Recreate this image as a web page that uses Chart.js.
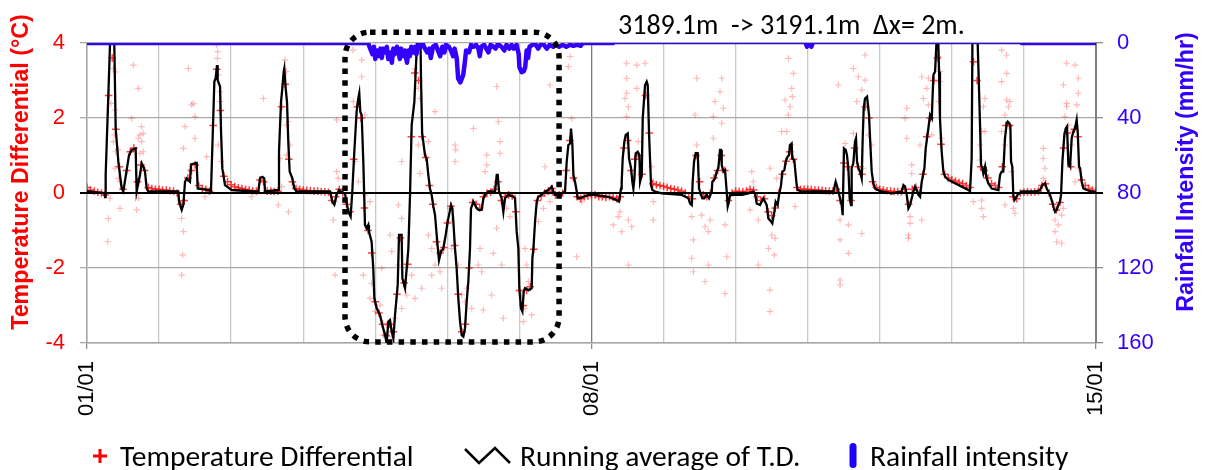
<!DOCTYPE html>
<html>
<head>
<meta charset="utf-8">
<script src="https://cdn.jsdelivr.net/npm/chart.js@4.4.0/dist/chart.umd.min.js"></script>
<style>
  html, body { margin: 0; padding: 0; background: #fff; }
  #wrap { width: 1206px; height: 470px; }
</style>
</head>
<body>
<div id="wrap"><canvas id="c" width="1206" height="470"></canvas></div>
<script>
// ---------------- data ----------------
// time axis in days after 01/01 00:00
const xTickDays = [0, 7, 14];
const xTickLabels = ['01/01', '08/01', '15/01'];
const tdTicks = [-4, -2, 0, 2, 4];          // °C
const rainTicks = [0, 40, 80, 120, 160];    // mm/hr

// raw temperature differential sampled every 0.05 day (one row per day)
const tdSampleStep = 0.05;
const tdSamples = [
  0.15,0.08,0.05,0.02,0.00,-0.05,2.6,3.6,1.7,0.7,0.10,0.6,1.1,1.2,0.3,0.75,0.6,0.15,0.12,0.10,
  0.10,0.08,0.08,0.06,0.05,0.00,-0.30,-0.20,0.40,0.60,0.75,0.20,0.12,0.10,0.05,1.8,3.3,2.2,0.45,0.30,
  0.22,0.17,0.14,0.12,0.10,0.08,0.06,0.05,0.35,0.30,0.05,0.05,0.04,0.05,2.3,2.9,0.9,0.30,0.12,0.10,
  0.08,0.07,0.06,0.05,0.05,0.04,0.03,0.02,-0.20,-0.10,0.10,0.00,-0.30,-0.50,0.90,2.3,2.0,-0.40,-1.0,-1.6,
  -2.9,-3.2,-3.5,-3.8,-3.5,-3.7,-2.7,-1.2,-2.4,-1.9,1.5,3.2,3.0,1.5,0.95,0.2,-0.3,-1.3,-1.6,-1.45,
  -0.8,-0.35,-1.4,-2.7,-3.7,-3.5,-2.0,-0.25,-0.30,-0.40,-0.10,0.00,0.02,0.10,0.30,-0.20,-0.10,-0.05,-0.08,-0.5,
  -2.6,-3.0,-2.6,-2.5,-1.5,-0.2,-0.08,0.00,0.05,0.12,-0.05,-0.05,0.00,0.6,1.4,0.4,-0.10,-0.15,-0.10,-0.08,
  -0.05,-0.05,-0.10,-0.10,-0.12,-0.10,-0.12,-0.15,-0.10,1.2,1.4,0.6,0.9,1.0,0.5,2.6,1.6,0.25,0.22,0.20,
  0.18,0.15,0.12,0.10,0.08,0.05,0.00,-0.10,-0.15,1.0,0.3,-0.05,-0.10,0.00,0.40,0.60,1.0,0.6,-0.20,0.00,
  0.05,0.04,0.03,0.05,0.10,0.08,-0.10,-0.20,-0.15,-0.5,-0.6,-0.4,0.00,0.5,0.85,1.1,0.9,0.15,0.10,0.10,
  0.10,0.09,0.08,0.08,0.07,0.06,0.05,0.05,0.10,-0.20,0.8,0.7,-0.20,1.2,0.7,0.5,2.3,2.0,0.30,0.15,
  0.10,0.08,0.06,0.05,0.04,0.04,0.03,0.10,-0.30,0.10,0.15,0.00,0.5,1.5,2.0,3.0,3.6,1.3,0.5,0.40,
  0.35,0.32,0.28,0.25,0.20,0.15,3.5,3.0,0.7,0.6,0.4,0.25,0.20,0.15,0.7,1.8,1.8,-0.10,-0.15,0.00,
  0.02,0.03,0.02,0.03,0.05,0.20,0.25,0.00,-0.30,-0.45,-0.25,1.2,1.6,0.7,1.7,1.5,0.35,0.20,0.12,0.08,
  0.05
];

// scattered raw readings [day, °C]
const tdScatter = [
  [0.365,3.32],[0.398,3.23],[0.333,2.39],[0.388,2.21],[0.379,1.55],[0.365,1.37],[0.398,1.10],[0.643,3.41],
  [0.712,2.79],[0.62,1.99],[0.758,1.77],[0.781,1.59],[0.735,1.55],[0.712,1.46],[0.758,1.37],[0.781,1.10],
  [0.735,1.06],[0.388,0.66],[0.435,0.39],[0.458,0.30],[0.296,-0.68],[0.287,-1.30],[0.458,-0.41],[0.689,-0.45],
  [0.712,-0.14],[0.319,-0.14],[0.435,1.15],
  [1.406,3.32],[1.452,2.35],[1.475,2.39],[1.498,2.04],[1.36,1.77],[1.498,1.46],[1.337,1.19],[1.66,0.97],
  [1.313,-0.68],[1.337,-1.03],[1.327,-1.65],[1.313,-2.19],[1.799,3.95],[1.813,3.77],[1.809,3.59],[1.822,3.15],
  [1.846,2.70],[1.846,2.44],[1.822,1.28],[1.859,0.84],[1.637,-0.10],[2.285,-0.10],
  [2.747,3.55],[2.77,3.24],[2.447,2.52],[2.794,1.90],[2.77,1.81],[2.817,1.28],[2.77,1.01],[2.678,0.92],
  [2.701,0.17],[2.655,-0.32],[2.794,-0.50],[3.464,1.95],[3.464,0.57],[3.487,0.39],[3.441,-0.23],[3.418,-0.72],
  [3.441,-2.19],[3.811,3.55],[3.811,3.10],[3.695,2.44],[3.857,2.08],[3.719,0.84],[3.765,0.30],[3.857,-0.05],
  [3.927,-0.23],[3.834,-2.19],[3.69,3.81],
  [4.366,0.84],[4.551,3.32],[4.597,2.79],[4.62,2.52],[4.597,1.28],[4.62,0.52],[4.32,-0.32],[4.366,-0.68],
  [4.204,-1.12],[4.228,-1.56],[4.32,-1.92],[4.089,-2.01],[3.95,-2.41],[3.927,-2.81],[3.996,-3.16],[4.066,-2.99],
  [4.158,-3.52],[4.274,-3.34],[4.366,-3.08],[4.436,-2.72],[4.551,-2.81],[4.644,-2.54],[4.505,-2.19],[4.112,-3.79],
  [4.228,-3.83],
  [4.829,2.17],[4.736,1.37],[5.106,1.28],[5.116,1.15],[5.106,0.84],[5.361,1.72],[5.684,2.84],[5.708,1.90],
  [5.731,1.37],[5.731,1.06],[5.546,1.01],[5.546,0.75],[5.523,0.57],[6.355,0.70],[6.424,2.88],[6.702,3.64],
  [6.679,3.37],[6.725,1.99],[6.748,0.39],[4.736,-1.12],[4.783,-1.48],[4.829,-1.92],[4.898,-2.10],[4.921,-2.54],
  [4.783,-2.19],[5.037,-0.41],[5.06,-0.76],[5.06,-1.48],[5.153,-1.92],[5.199,-2.72],[5.268,-2.54],[5.245,-2.90],
  [5.338,-3.08],[5.453,-1.48],[5.43,-1.92],[5.476,-2.10],[5.638,-1.61],[5.754,-1.92],[5.615,-2.72],[5.499,-3.12],
  [5.777,-3.34],[5.684,-0.94],[5.869,-0.63],[6.078,-1.48],[6.101,-1.92],[6.124,-2.36],[6.031,-2.72],[6.078,-3.08],
  [6.17,-3.25],[6.054,-3.43],[6.263,-0.76],[6.332,-0.41],[6.424,-0.23],[6.794,-1.70],[6.864,-0.23],[5.823,-0.41],
  [5.222,-3.70],
  [7.488,3.46],[7.627,3.41],[7.743,3.46],[7.488,3.06],[7.627,2.79],[7.488,2.66],[7.512,2.30],[7.465,2.52],
  [7.488,2.04],[7.65,1.37],[7.835,0.70],[7.858,0.30],[7.858,-0.23],[7.373,-0.63],[7.396,-0.50],[7.512,-0.72],
  [7.303,-0.85],[7.558,-0.90],[7.419,-1.03],[7.858,-0.72],[7.512,-1.92],
  [8.46,3.06],[8.807,3.06],[8.783,2.70],[8.714,2.44],[8.83,2.26],[8.437,2.08],[8.691,2.04],[8.807,1.86],
  [8.46,1.28],[8.691,1.46],[8.39,-0.63],[8.529,-0.59],[8.575,-0.90],[8.622,-1.03],[8.645,-0.72],[8.853,-0.85],
  [8.414,-1.25],[8.39,-1.74],[8.622,-1.92],[8.876,-1.70],[8.414,-2.10],[8.575,-2.36],[8.853,-2.68],[9.223,0.57],
  [9.246,0.30],[9.2,-0.45],[9.315,-0.72],[9.315,-1.92],
  [9.732,3.59],[9.801,3.19],[9.778,2.79],[9.787,2.57],[9.686,2.48],[9.755,2.30],[9.732,2.08],[9.639,1.64],
  [9.709,1.64],[9.778,1.28],[9.477,0.66],[9.57,0.39],[9.824,-0.36],[9.5,-1.12],[9.547,-1.21],[9.454,-1.48],
  [9.538,-1.65],[9.477,-2.59],[9.477,-3.16],
  [10.796,3.68],[10.634,3.32],[10.703,3.10],[10.796,3.01],[10.426,2.88],[10.749,2.75],[10.68,2.44],[10.634,1.59],
  [10.842,1.55],[10.888,1.28],[10.772,0.66],[10.518,1.32],[10.449,-0.72],[10.564,-0.85],[10.449,-1.25],[10.564,-1.61],
  [10.749,-1.08],[10.449,-2.32],[10.449,-2.45],
  [11.582,3.10],[11.674,3.06],[11.651,2.79],[11.605,2.52],[11.674,2.35],[11.374,2.26],[11.351,1.99],[11.374,1.46],
  [11.443,0.75],[11.559,1.28],[11.443,0.52],[11.42,-0.63],[11.42,-0.81],[11.397,-1.12],[11.397,-1.21],[11.582,-0.72],
  [11.721,1.55],
  [11.812,3.64],[11.835,3.24],[11.835,2.97],[11.812,2.44],[11.858,1.46],[12.46,2.52],[12.437,2.30],[12.414,1.64],
  [12.46,1.64],[12.39,1.28],[12.39,0.88],[12.691,3.81],[12.76,3.68],[12.76,3.19],[12.691,2.97],[12.76,2.48],
  [12.807,2.44],[12.784,2.30],[12.737,2.08],[12.691,1.64],[12.737,1.28],[12.83,0.57],[12.737,-0.32],[12.853,-0.41],
  [12.876,-0.54],[12.298,-0.23],[12.414,-0.19],[12.414,-0.41],[12.437,-0.63],
  [13.269,1.19],[13.269,0.92],[13.292,0.66],[13.269,0.39],[13.547,-0.41],[13.524,-0.59],[13.431,-0.72],[13.477,-0.85],
  [13.431,-1.03],[13.454,-1.30],[13.524,-1.34],[13.593,3.46],[13.709,3.41],[13.755,3.06],[13.547,2.88],[13.593,2.39],
  [13.593,2.30],[13.732,2.35],[13.755,2.66],[13.57,2.04],[13.616,1.81],[13.662,1.28],[13.755,0.66],[13.709,0.30],
  [13.685,1.64]
];

// running average of the temperature differential [day, °C]
const runningAvg = [
  [0,0.05],[0.12,0.02],[0.24,0.0],[0.25,-0.1],[0.259,0.48],[0.296,2.61],[0.319,3.95],[0.33,5.5],[0.37,5.5],
  [0.379,3.95],[0.398,1.72],[0.435,0.83],[0.481,0.12],[0.504,0.04],[0.583,1.01],[0.62,1.15],[0.675,1.19],
  [0.689,0.04],[0.735,0.48],[0.759,0.79],[0.782,0.70],[0.805,0.57],[0.828,0.12],[0.851,0.04],[1.267,0.04],
  [1.277,-0.23],[1.314,-0.45],[1.337,-0.31],[1.36,0.30],[1.383,0.39],[1.429,0.30],[1.443,0.76],[1.522,0.80],
  [1.536,0.12],[1.693,0.08],[1.72,0.04],[1.73,0.65],[1.767,2.97],[1.785,3.06],[1.804,3.41],[1.813,3.01],
  [1.846,2.84],[1.86,1.63],[1.878,0.65],[1.915,0.21],[2.008,0.08],[2.33,0.04],
  [2.377,0.04],[2.40,0.39],[2.433,0.43],[2.46,0.39],[2.47,0.04],[2.655,0.08],[2.664,1.1],[2.692,2.43],
  [2.71,2.79],[2.729,3.23],[2.738,3.32],[2.757,2.79],[2.775,2.43],[2.793,1.37],[2.812,0.57],[2.849,0.39],
  [2.877,0.12],[2.909,0.04],[3.372,0.04],[3.404,-0.23],[3.432,-0.31],[3.464,-0.05],[3.496,0.08],[3.524,0.04],
  [3.58,-0.02],[3.626,-0.5],[3.658,-0.63],[3.681,0.04],[3.709,1.1],[3.741,2.17],[3.764,2.52],[3.778,2.66],
  [3.792,2.17],[3.811,2.08],[3.834,0.83],[3.857,-0.85],[3.88,-0.94],[3.903,-0.85],[3.912,-1.03],[3.949,-1.3],
  [3.972,-2.01],[3.987,-2.81],[4.019,-3.07],[4.065,-3.25],[4.098,-3.52],[4.135,-3.79],[4.158,-4.01],[4.181,-3.43],
  [4.204,-3.39],[4.228,-3.7],[4.251,-3.87],[4.274,-3.25],[4.311,-2.45],[4.329,-1.12],[4.366,-1.12],[4.376,-2.28],
  [4.413,-2.54],[4.436,-2.01],[4.459,-1.48],[4.482,-0.05],[4.505,1.81],[4.542,2.43],[4.575,3.84],[4.589,5.0],
  [4.62,5.0],[4.635,3.0],[4.65,1.6],[4.69,1.0],
  [4.713,0.92],[4.736,0.48],[4.759,0.12],[4.782,-0.05],[4.806,-0.36],[4.829,-0.59],[4.852,-1.12],[4.866,-1.43],
  [4.884,-1.79],[4.912,-1.56],[4.944,-1.48],[4.977,-1.12],[5.005,-0.76],[5.023,-0.59],[5.051,-0.32],[5.069,-0.41],
  [5.083,-0.76],[5.106,-1.48],[5.129,-2.01],[5.152,-2.81],[5.176,-3.43],[5.199,-3.79],[5.222,-3.83],[5.245,-3.61],
  [5.268,-2.9],[5.291,-2.36],[5.314,-1.48],[5.328,-0.41],[5.361,-0.23],[5.384,-0.32],[5.407,-0.41],[5.43,-0.45],
  [5.476,-0.45],[5.5,-0.14],[5.523,-0.05],[5.569,0.04],[5.662,0.04],[5.685,0.48],[5.699,0.48],[5.717,0.04],
  [5.754,-0.14],[5.777,-0.5],[5.8,-0.14],[5.846,-0.05],[5.916,-0.1],[5.939,-0.14],[5.962,-1.03],[5.985,-1.48],
  [5.999,-2.54],[6.022,-3.08],[6.041,-3.16],[6.059,-2.63],[6.078,-2.54],[6.124,-2.59],[6.17,-2.54],[6.18,-1.74],
  [6.194,-1.48],[6.217,-0.76],[6.24,-0.23],[6.263,-0.1],[6.309,-0.05],[6.356,0.04],[6.402,0.08],[6.448,0.17],
  [6.471,0.04],[6.494,-0.05],[6.541,-0.05],[6.633,0.04],[6.656,0.84],[6.679,1.28],[6.702,1.32],[6.716,1.72],
  [6.735,1.28],[6.749,0.48],[6.772,0.3],[6.795,0.04],[6.809,-0.14],[6.842,-0.14],[6.888,-0.1],[6.957,-0.05],
  [7.05,-0.05],
  [7.234,-0.1],[7.28,-0.14],[7.349,-0.19],[7.382,-0.23],[7.41,0.12],[7.419,0.3],[7.433,0.92],[7.456,1.37],
  [7.475,1.55],[7.503,1.59],[7.521,0.92],[7.549,0.66],[7.567,0.3],[7.581,0.12],[7.595,0.39],[7.614,1.06],
  [7.641,1.1],[7.665,1.01],[7.674,0.3],[7.697,0.48],[7.711,1.99],[7.743,2.88],[7.766,2.97],[7.78,2.88],
  [7.799,1.55],[7.826,0.21],[7.845,0.08],[7.882,0.04],[7.975,-0.01],[8.252,-0.05],[8.344,-0.14],[8.368,-0.28],
  [8.391,-0.32],[8.404,0.3],[8.423,0.84],[8.446,1.06],[8.474,1.06],[8.492,0.12],[8.52,-0.05],[8.538,-0.14],
  [8.566,-0.14],[8.598,-0.05],[8.631,-0.14],[8.668,0.04],[8.677,0.3],[8.714,0.39],[8.737,0.57],[8.76,0.66],
  [8.783,1.15],[8.797,1.15],[8.807,0.75],[8.83,0.57],[8.853,0.61],[8.876,0.04],[8.89,-0.36],[8.908,-0.23],
  [8.922,-0.05],[9.084,-0.05],[9.176,-0.01],[9.246,0.04],[9.269,-0.01],[9.292,-0.28],[9.338,-0.32],[9.384,-0.14],
  [9.431,-0.32],[9.454,-0.68],[9.491,-0.76],[9.509,-0.81],[9.537,-0.5],[9.555,-0.23],[9.583,-0.32],[9.602,-0.05],
  [9.63,0.21],[9.648,0.57],[9.676,0.61],[9.694,0.84],[9.722,0.97],[9.74,1.01],[9.754,1.28],[9.777,1.32],
  [9.786,0.92],[9.814,0.88],[9.833,0.48],[9.847,0.21],[9.861,0.08],[9.916,0.04],[10.356,0.04],[10.388,0.3],
  [10.416,0.12],[10.448,-0.14],[10.471,-0.32],[10.485,-0.59],[10.503,1.19],[10.527,1.15],[10.545,1.01],[10.564,0.66],
  [10.582,-0.14],[10.601,-0.32],[10.61,0.66],[10.633,0.79],[10.656,1.37],[10.67,1.46],[10.684,0.84],[10.703,0.66],
  [10.726,0.57],[10.749,0.39],[10.763,1.46],[10.777,2.26],[10.795,2.52],[10.823,2.57],[10.851,2.08],[10.865,1.46],
  [10.888,0.57],[10.911,0.26],[10.934,0.12],[11.004,0.05],[11.166,-0.01],[11.304,0.04],[11.328,0.21],[11.351,0.17],
  [11.374,-0.05],[11.397,-0.41],[11.42,-0.32],[11.443,-0.14],[11.466,0.04],[11.489,0.17],[11.513,0.08],[11.536,-0.05],
  [11.559,-0.1],[11.582,0.3],[11.619,0.66],[11.637,1.19],[11.674,1.72],[11.697,2.08],[11.721,1.99],[11.744,3.15],
  [11.767,3.24],[11.785,3.95],[11.8,4.8],[11.813,3.95],[11.822,3.24],[11.835,1.99],[11.859,1.1],[11.882,0.57],
  [11.905,0.44],[11.951,0.35],[12.044,0.26],[12.136,0.17],[12.229,0.08],[12.252,0.05],[12.275,0.92],[12.285,3.95],
  [12.30,5.5],[12.35,5.5],[12.359,3.95],[12.378,2.7],[12.391,1.81],[12.405,0.75],[12.424,0.66],[12.437,0.52],
  [12.46,0.7],[12.47,0.52],[12.483,0.39],[12.506,0.26],[12.553,0.12],[12.645,0.08],[12.668,0.48],[12.691,0.57],
  [12.714,0.57],[12.737,1.46],[12.761,1.86],[12.775,1.9],[12.793,1.86],[12.812,1.81],[12.821,0.84],[12.839,0.7],
  [12.853,-0.05],[12.867,-0.19],[12.886,-0.14],[12.913,-0.05],[12.969,0.04],[13.154,0.04],[13.223,0.08],[13.256,0.21],
  [13.293,0.26],[13.316,0.12],[13.339,0.04],[13.362,-0.05],[13.385,-0.19],[13.409,-0.36],[13.432,-0.5],[13.455,-0.45],
  [13.478,-0.32],[13.501,-0.23],[13.515,-0.05],[13.534,0.84],[13.561,1.55],[13.58,1.72],[13.598,1.77],[13.617,0.75],
  [13.64,0.7],[13.663,1.46],[13.686,1.64],[13.709,1.72],[13.732,1.95],[13.746,1.64],[13.765,0.7],[13.779,0.66],
  [13.802,0.3],[13.825,0.12],[13.871,0.08],[13.94,0.04],[14.0,0.02]
];

// rainfall intensity [day, mm/hr]
const rainfall = [
  [0,0],[3.9,0],[3.93,3],[3.96,6],[3.98,2],[4.0,8.5],[4.02,4],[4.04,7],[4.07,3],[4.09,8],[4.11,3],[4.13,5],
  [4.16,2],[4.18,8.5],[4.2,5],[4.23,10.5],[4.25,3],[4.27,6],[4.3,2],[4.32,4],[4.34,8.5],[4.36,3],[4.39,7],
  [4.41,4],[4.44,10.5],[4.46,4],[4.48,7],[4.5,2],[4.53,5],[4.55,2],[4.57,6],[4.6,1],[4.63,2],[4.66,0.5],
  [4.69,3],[4.72,5],[4.75,3],[4.77,8],[4.8,2],[4.84,1],[4.88,5],[4.9,7],[4.93,2],[4.96,5],[4.98,1],[5.02,2],
  [5.05,4],[5.08,7],[5.1,3],[5.13,8],[5.15,19],[5.18,21],[5.2,19],[5.22,17],[5.24,11],[5.26,4],[5.3,5],
  [5.33,1],[5.36,2],[5.4,1],[5.43,3],[5.45,7],[5.47,2],[5.51,1],[5.54,3],[5.57,5],[5.6,1],[5.64,2],[5.67,3],
  [5.7,0.5],[5.75,2],[5.79,4],[5.82,1],[5.86,3],[5.89,1],[5.92,3],[5.96,1],[5.99,6],[6.0,13],[6.03,15.5],
  [6.06,15],[6.08,13],[6.1,4],[6.12,8],[6.14,2],[6.18,1],[6.22,0.5],[6.26,3],[6.3,0.5],[6.34,1],[6.38,3],
  [6.42,1],[6.47,2],[6.5,1],[6.55,2],[6.6,1],[6.65,2],[6.7,1],[6.75,1.5],[6.8,1],[6.85,1.5],[6.88,0],
  [7.3,0],[9.97,0],[9.99,2],[10.02,0],[10.05,2],[10.07,0],[12.97,0],[14,0]
];
// stretch of the record with no gauge reading (drawn as a thin trace)
const rainGap = [7.3, 12.97];

// ---------------- styling ----------------
const RED = '#ff0000';
const BLUE = '#3300ff';
const TICK_FONT = { family: '"Liberation Sans", Arial, sans-serif', size: 22 };
const TEXT_FAMILY = 'Carlito, Lato, "Open Sans", sans-serif';

const highlight = { fromDay: 3.58, toDay: 6.55, top: 4.29, bottom: -3.97, radius: 25 };

function roundRectPath(ctx, x0, y0, x1, y1, r) {
  ctx.beginPath();
  ctx.moveTo(x0 + r, y0);
  ctx.lineTo(x1 - r, y0);
  ctx.arcTo(x1, y0, x1, y0 + r, r);
  ctx.lineTo(x1, y1 - r);
  ctx.arcTo(x1, y1, x1 - r, y1, r);
  ctx.lineTo(x0 + r, y1);
  ctx.arcTo(x0, y1, x0, y1 - r, r);
  ctx.lineTo(x0, y0 + r);
  ctx.arcTo(x0, y0, x0 + r, y0, r);
  ctx.closePath();
}

const decor = {
  id: 'decor',
  afterDatasetDraw(chart, args) {
    // zero line sits above the raw points but below the running average
    if (args.index !== 2) return;
    const { ctx, chartArea } = chart;
    const y = Math.round(chart.scales.yTd.getPixelForValue(0));
    ctx.save();
    ctx.strokeStyle = '#000';
    ctx.lineWidth = 2;
    ctx.beginPath();
    ctx.moveTo(chartArea.left - 7, y);
    ctx.lineTo(chartArea.right + 7, y);
    ctx.stroke();
    ctx.restore();
  },
  afterDatasetsDraw(chart) {
    const { ctx } = chart;
    const xs = chart.scales.x, ys = chart.scales.yTd;
    ctx.save();
    ctx.strokeStyle = '#000';
    ctx.lineWidth = 5.5;
    ctx.lineCap = 'butt';
    ctx.setLineDash([5.5, 6.2]);
    roundRectPath(ctx, xs.getPixelForValue(highlight.fromDay), ys.getPixelForValue(highlight.top),
      xs.getPixelForValue(highlight.toDay), ys.getPixelForValue(highlight.bottom), highlight.radius);
    ctx.stroke();
    ctx.restore();
  },
  afterDraw(chart) {
    const { ctx, chartArea } = chart;
    const midY = (chartArea.top + chartArea.bottom) / 2 - 21;
    ctx.save();
    // axis titles
    ctx.font = 'bold 23.3px "Liberation Sans", Arial, sans-serif';
    ctx.textAlign = 'center';
    ctx.textBaseline = 'middle';
    [[chartArea.left - 65, 'Temperature Differential (°C)', RED],
     [chartArea.right + 91, 'Rainfall Intensity (mm/hr)', BLUE]].forEach(([x, txt, col]) => {
      ctx.save();
      ctx.translate(x, midY);
      ctx.rotate(-Math.PI / 2);
      ctx.fillStyle = col;
      ctx.fillText(txt, 0, 0);
      ctx.restore();
    });
    // section caption
    ctx.font = '28px ' + TEXT_FAMILY;
    ctx.textAlign = 'left';
    ctx.textBaseline = 'alphabetic';
    ctx.fillStyle = '#000';
    ctx.fillText('3189.1m  -> 3191.1m  \u0394x= 2m.', chartArea.left + 531, 34);

    // legend
    const base = 466, mid = 456;
    ctx.font = '29.5px ' + TEXT_FAMILY;
    ctx.fillStyle = '#000';
    // raw points marker
    ctx.strokeStyle = RED;
    ctx.lineWidth = 3;
    ctx.beginPath();
    ctx.moveTo(93, mid); ctx.lineTo(107, mid);
    ctx.moveTo(100, mid - 7); ctx.lineTo(100, mid + 7);
    ctx.stroke();
    ctx.fillText('Temperature Differential', 120, base);
    // running average marker
    ctx.strokeStyle = '#000';
    ctx.lineWidth = 2.5;
    ctx.beginPath();
    ctx.moveTo(465, 449); ctx.lineTo(479, 463); ctx.lineTo(495, 448); ctx.lineTo(510, 463);
    ctx.stroke();
    ctx.fillText('Running average of T.D.', 520, base);
    // rainfall marker
    ctx.fillStyle = '#1a00ff';
    roundRectPath(ctx, 849.5, 443, 856.5, 468, 3.5);
    ctx.fill();
    ctx.fillStyle = '#000';
    ctx.fillText('Rainfall intensity', 870, base);
    ctx.restore();
  }
};

const sampleMarks = tdSamples.map((v, i) => ({ x: +(i * tdSampleStep).toFixed(3), y: v }));

new Chart(document.getElementById('c'), {
  data: {
    datasets: [
      {
        type: 'line', label: 'Rainfall intensity', yAxisID: 'yRain',
        data: rainfall.map(([x, y]) => ({ x, y })),
        borderColor: BLUE, borderWidth: 4.5, borderCapStyle: 'round', borderJoinStyle: 'round',
        pointRadius: 0, tension: 0,
        segment: {
          borderWidth: c => (c.p0.parsed.x >= rainGap[0] && c.p1.parsed.x <= rainGap[1] &&
                             c.p0.parsed.y === 0 && c.p1.parsed.y === 0) ? 2.4 : 4.5
        }
      },
      {
        type: 'line', label: 'Running average of T.D.', yAxisID: 'yTd',
        data: runningAvg.map(([x, y]) => ({ x, y })),
        borderColor: '#000', borderWidth: 2.3, pointRadius: 0, tension: 0
      },
      {
        type: 'scatter', label: 'Temperature Differential', yAxisID: 'yTd',
        data: sampleMarks,
        pointStyle: 'cross', pointRadius: 3.8, pointBorderWidth: 1.5,
        pointBorderColor: 'rgba(255,0,0,0.75)', borderColor: 'rgba(255,0,0,0.75)'
      },
      {
        type: 'scatter', label: 'Temperature Differential', yAxisID: 'yTd',
        data: tdScatter.map(([x, y]) => ({ x, y })),
        pointStyle: 'cross', pointRadius: 3.2, pointBorderWidth: 1.2,
        pointBorderColor: 'rgba(255,0,0,0.28)', borderColor: 'rgba(255,0,0,0.28)'
      }
    ]
  },
  options: {
    responsive: false,
    animation: false,
    devicePixelRatio: 1,
    layout: { padding: { top: 43, left: 0, right: 0, bottom: 0 } },
    plugins: { legend: { display: false }, tooltip: { enabled: false } },
    scales: {
      x: {
        type: 'linear', position: 'bottom', min: 0, max: 14,
        afterFit(s) { s.height = 127; },
        ticks: {
          stepSize: 1, autoSkip: false, minRotation: 90, maxRotation: 90, padding: 12,
          color: '#000', font: TICK_FONT,
          callback(v) { const i = xTickDays.indexOf(v); return i >= 0 ? xTickLabels[i] : ''; }
        },
        grid: {
          color: c => (c.tick && c.tick.value === 7) ? '#7a7a7a' : '#c8c8c8',
          lineWidth: 1.3, tickLength: 6,
          tickColor: c => (c.tick && xTickDays.includes(c.tick.value)) ? '#8c8c8c' : 'rgba(0,0,0,0)'
        },
        border: { color: '#a6a6a6', width: 1.5 }
      },
      yTd: {
        type: 'linear', position: 'left', min: -4, max: 4,
        afterFit(s) { s.width = 87; },
        afterBuildTicks(s) { s.ticks = tdTicks.map(v => ({ value: v })); },
        ticks: { color: RED, font: TICK_FONT, padding: 15 },
        grid: {
          color: c => (c.tick && c.tick.value === 0) ? 'rgba(0,0,0,0)' : '#a9a9a9',
          lineWidth: 1.3, tickLength: 7,
          tickColor: c => (c.tick && c.tick.value === 0) ? 'rgba(0,0,0,0)' : '#a9a9a9'
        },
        border: { color: '#a6a6a6', width: 1.5 }
      },
      yRain: {
        type: 'linear', position: 'right', min: 0, max: 160, reverse: true,
        afterFit(s) { s.width = 110; },
        afterBuildTicks(s) { s.ticks = rainTicks.map(v => ({ value: v })); },
        ticks: { color: BLUE, font: TICK_FONT, padding: 14 },
        grid: { drawOnChartArea: false, tickLength: 7, color: '#8c8c8c', lineWidth: 1.3 },
        border: { color: '#808080', width: 2 }
      }
    }
  },
  plugins: [decor]
});
</script>
</body>
</html>
